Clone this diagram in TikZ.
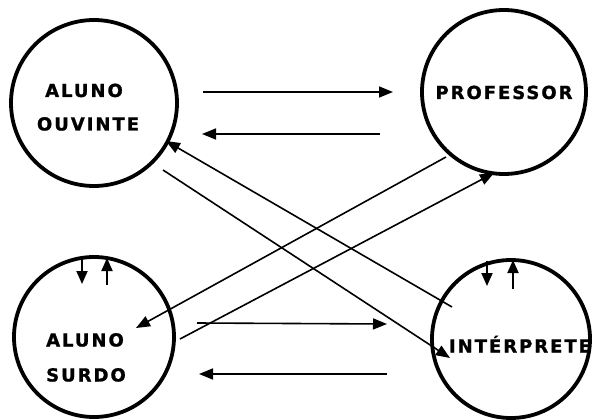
\documentclass[tikz,border=0pt]{standalone}
\usepackage{fontspec}
\setmainfont{DejaVu Sans}
\newfontfamily\lblfont[LetterSpace=11,FakeBold=1.2]{DejaVu Sans Bold}
\usetikzlibrary{arrows.meta}
\begin{document}
\begin{tikzpicture}[x=1pt,y=-1pt,
  actor/.style={circle,draw,line width=3.8pt,inner sep=0pt,minimum size=#1},
  lbl/.style={font=\lblfont\fontsize{18}{18}\selectfont,anchor=base,inner sep=0pt},
  flow/.style={line width=1.6pt,-{Triangle[length=14pt,width=11pt]}},
  tick/.style={line width=1.8pt,-{Triangle[length=13pt,width=11pt]}}]
\useasboundingbox (0,0) rectangle (595,420);
% circles
\node[actor=166pt] (ouv) at (94,103) {};
\node[actor=164pt] (prof) at (504,92) {};
\node[actor=160pt] (surdo) at (94,337) {};
\node[actor=158pt] (interp) at (511,339) {};
% labels
\node[lbl] (t1) at (84,97) {ALUNO};
\node[lbl] (t2) at (88,130.5) {OUVINTE};
\node[lbl] (t3) at (504,99) {PROFESSOR};
\node[lbl] (t4) at (520,352.5) {INTÉRPRETE};
\node[lbl] (t5) at (85,346.5) {ALUNO};
\node[lbl] (t6) at (86,381.5) {SURDO};
% horizontal connectors
\coordinate (h1s) at (203,92);  \coordinate (h1e) at (393,92);
\coordinate (h2s) at (380,134); \coordinate (h2e) at (202,134);
\coordinate (h3s) at (197,323); \coordinate (h3e) at (387,324);
\coordinate (h4s) at (387,374); \coordinate (h4e) at (199,374);
\draw[flow] (h1s) -- (h1e);
\draw[flow] (h2s) -- (h2e);
\draw[flow] (h3s) -- (h3e);
\draw[flow] (h4s) -- (h4e);
% diagonal connectors
\coordinate (as) at (452,307); \coordinate (ae) at (166,141);
\coordinate (bs) at (163,170); \coordinate (be) at (450,358);
\coordinate (cs) at (446,157); \coordinate (ce) at (136,328);
\coordinate (ds) at (180,339); \coordinate (de) at (494,173);
\draw[flow] (as) -- (ae);
\draw[flow] (bs) -- (be);
\draw[flow] (cs) -- (ce);
\draw[flow] (ds) -- (de);
% small arrows
\coordinate (s1a) at (82,256);  \coordinate (s1b) at (82,284);
\coordinate (s2a) at (107,285); \coordinate (s2b) at (107,258);
\coordinate (i1a) at (487,261); \coordinate (i1b) at (487,286);
\coordinate (i2a) at (513,289); \coordinate (i2b) at (513,260);
\draw[tick] (s1a) -- (s1b);
\draw[tick] (s2a) -- (s2b);
\draw[tick] (i1a) -- (i1b);
\draw[tick] (i2a) -- (i2b);
\end{tikzpicture}
\end{document}
